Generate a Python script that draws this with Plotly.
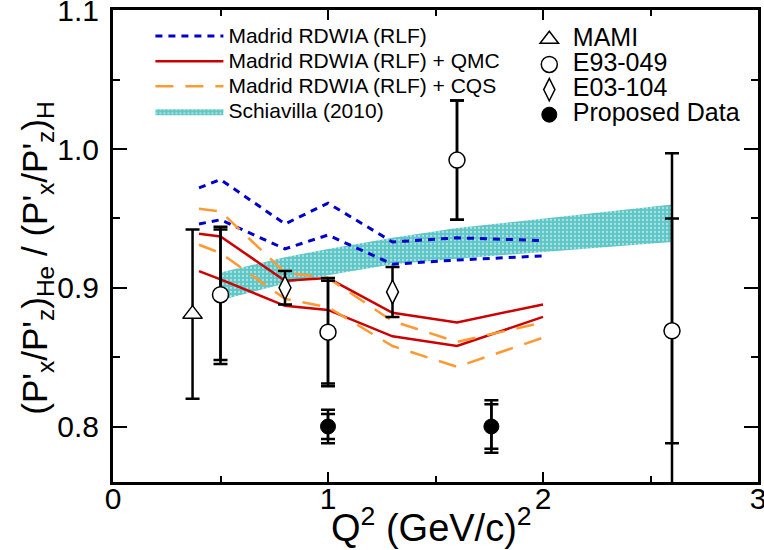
import plotly.graph_objects as go

# ---------------- data ----------------
q2_theory = [0.4, 0.5, 0.8, 1.0, 1.3, 1.6, 2.0]
rlf_upper = [0.972, 0.978, 0.946, 0.961, 0.933, 0.936, 0.934]
rlf_lower = [0.946, 0.949, 0.928, 0.938, 0.917, 0.920, 0.923]
qmc_upper = [0.939, 0.937, 0.905, 0.907, 0.882, 0.875, 0.888]
qmc_lower = [0.912, 0.906, 0.887, 0.884, 0.865, 0.858, 0.879]
cqs_upper = [0.957, 0.955, 0.911, 0.907, 0.876, 0.861, 0.875]
cqs_lower = [0.931, 0.925, 0.892, 0.886, 0.858, 0.843, 0.864]

q2_band = [0.5, 0.8, 1.0, 1.3, 1.6, 2.0, 2.6]
band_upper = [0.911, 0.922, 0.928, 0.936, 0.943, 0.950, 0.960]
band_lower = [0.891, 0.903, 0.909, 0.917, 0.921, 0.926, 0.933]

mami_q2 = [0.37]
mami_val = [0.881]
mami_err = [0.061]

e93_q2 = [0.5, 1.0, 1.6, 2.6]
e93_val = [0.895, 0.868, 0.992, 0.869]
e93_err_in = [0.047, 0.037, 0.043, 0.081]
e93_err_out_plus = [0.049, 0.039, 0.043, 0.128]
e93_err_out_minus = [0.050, 0.039, 0.043, 0.128]

e03_q2 = [0.8, 1.3]
e03_val = [0.900, 0.897]
e03_err = [0.012, 0.018]

prop_q2 = [1.0, 1.76]
prop_val = [0.800, 0.800]
prop_err_in = [0.009, 0.016]
prop_err_out = [0.012, 0.019]

x_ticks = [0, 1, 2, 3]
y_ticks = [0.8, 0.9, 1.0, 1.1]
y_ticktext = ["0.8", "0.9", "1.0", "1.1"]

FONT = "Liberation Sans, Arial, sans-serif"

fig = go.Figure()

# Schiavilla band
fig.add_trace(go.Scatter(
    x=q2_band + q2_band[::-1], y=band_upper + band_lower[::-1],
    fill="toself", mode="lines", line=dict(width=0, color="#5ec6c6"),
    fillcolor="#5ec6c6",
    fillpattern=dict(shape=".", fgcolor="white", bgcolor="#5ec6c6", size=4, solidity=0.25),
    name='<span style="font-size:21px">Schiavilla (2010)</span>', legend="legend", legendrank=4))

def add_pair(upper, lower, name, color, dash, width, rank):
    label = '<span style="font-size:21px">%s</span>' % name
    fig.add_trace(go.Scatter(x=q2_theory, y=upper, mode="lines", name=label,
                             line=dict(color=color, dash=dash, width=width),
                             legendgroup=name, legend="legend", legendrank=rank))
    fig.add_trace(go.Scatter(x=q2_theory, y=lower, mode="lines", name=label,
                             line=dict(color=color, dash=dash, width=width),
                             legendgroup=name, showlegend=False))

add_pair(rlf_upper, rlf_lower, "Madrid RDWIA (RLF)", "#0000cc", "7px,6px", 3, 1)
add_pair(qmc_upper, qmc_lower, "Madrid RDWIA (RLF) + QMC", "#cc0000", "solid", 2.5, 2)
add_pair(cqs_upper, cqs_lower, "Madrid RDWIA (RLF) + CQS", "#ff9933", "18px,12px", 2.5, 3)

# error bars (separate, no legend)
def ebar(x, y, plus, minus=None, width=7):
    e = dict(type="data", array=plus, thickness=2.5, width=width, color="black")
    if minus is not None:
        e["symmetric"] = False
        e["arrayminus"] = minus
    fig.add_trace(go.Scatter(x=x, y=y, mode="markers", marker=dict(size=1, opacity=0),
                             error_y=e, showlegend=False, hoverinfo="skip"))

ebar(mami_q2, mami_val, mami_err)
ebar(e93_q2, e93_val, e93_err_in)
ebar(e93_q2, e93_val, e93_err_out_plus, e93_err_out_minus)
ebar(e03_q2, e03_val, e03_err)
ebar(prop_q2, prop_val, prop_err_in)
ebar(prop_q2, prop_val, prop_err_out)

def big(t):
    return '<span style="font-size:25px">%s</span>' % t

# markers
fig.add_trace(go.Scatter(x=mami_q2, y=mami_val, mode="markers", name=big("MAMI"),
                         marker=dict(symbol="triangle-up", size=17, color="white",
                                     line=dict(color="black", width=1.5)),
                         legend="legend2", legendrank=1))
fig.add_trace(go.Scatter(x=e93_q2, y=e93_val, mode="markers", name=big("E93-049"),
                         marker=dict(symbol="circle", size=16, color="white",
                                     line=dict(color="black", width=1.5)),
                         legend="legend2", legendrank=2))
fig.add_trace(go.Scatter(x=e03_q2, y=e03_val, mode="markers", name=big("E03-104"),
                         marker=dict(symbol="diamond-tall", size=17, color="white",
                                     line=dict(color="black", width=1.5)),
                         legend="legend2", legendrank=3))
fig.add_trace(go.Scatter(x=prop_q2, y=prop_val, mode="markers", name=big("Proposed Data"),
                         marker=dict(symbol="circle", size=15, color="black",
                                     line=dict(color="black", width=1)),
                         legend="legend2", legendrank=4))

axis_common = dict(showline=True, linecolor="black", linewidth=3, mirror="allticks",
                   ticks="inside", tickcolor="black", tickwidth=2, showgrid=False,
                   zeroline=False, automargin=False, ticklabeloverflow="allow",
                   tickfont=dict(family=FONT, size=30, color="black"))

fig.update_layout(
    width=764, height=550,
    margin=dict(l=113, r=6, t=10, b=68),
    plot_bgcolor="white", paper_bgcolor="white",
    font=dict(family=FONT, color="black"),
    xaxis=dict(range=[0, 3], tickvals=x_ticks, ticklen=10, ticklabelstandoff=-12,
               minor=dict(dtick=0.5, ticks="inside", ticklen=6, tickwidth=2, tickcolor="black"),
               **axis_common),
    yaxis=dict(range=[0.76, 1.1002], tickvals=y_ticks, ticktext=y_ticktext, ticklen=14,
               ticklabelstandoff=5,
               minor=dict(tickvals=[0.85, 0.95, 1.05], ticks="inside", ticklen=7, tickwidth=2, tickcolor="black"),
               **axis_common),
    legend=dict(x=0.058, y=0.982, xanchor="left", yanchor="top", bgcolor="rgba(0,0,0,0)",
                font=dict(family=FONT, size=17), itemwidth=68, tracegroupgap=0,
                traceorder="normal"),
    legend2=dict(x=0.64, y=0.975, xanchor="left", yanchor="top", bgcolor="rgba(0,0,0,0)",
                 font=dict(family=FONT, size=17), itemwidth=37, tracegroupgap=0,
                 traceorder="normal"),
    annotations=[
        dict(text="Q<sup>2</sup> (GeV/c)<sup>2</sup>", xref="paper", yref="paper",
             x=0.494, y=-0.091, xanchor="center", yanchor="middle", showarrow=False,
             font=dict(family=FONT, size=38, color="black")),
        dict(text="(P'<sub>x</sub>/P'<sub>z</sub>)<sub>He</sub> / (P'<sub>x</sub>/P'<sub>z</sub>)<sub>H</sub>",
             xref="paper", yref="paper", x=-0.118, y=0.475, xanchor="center", yanchor="middle",
             textangle=-90, showarrow=False, font=dict(family=FONT, size=35, color="black")),
    ],
)

fig.write_html("out.html", config={"displayModeBar": False},
               post_script="document.body.style.margin='0';")
